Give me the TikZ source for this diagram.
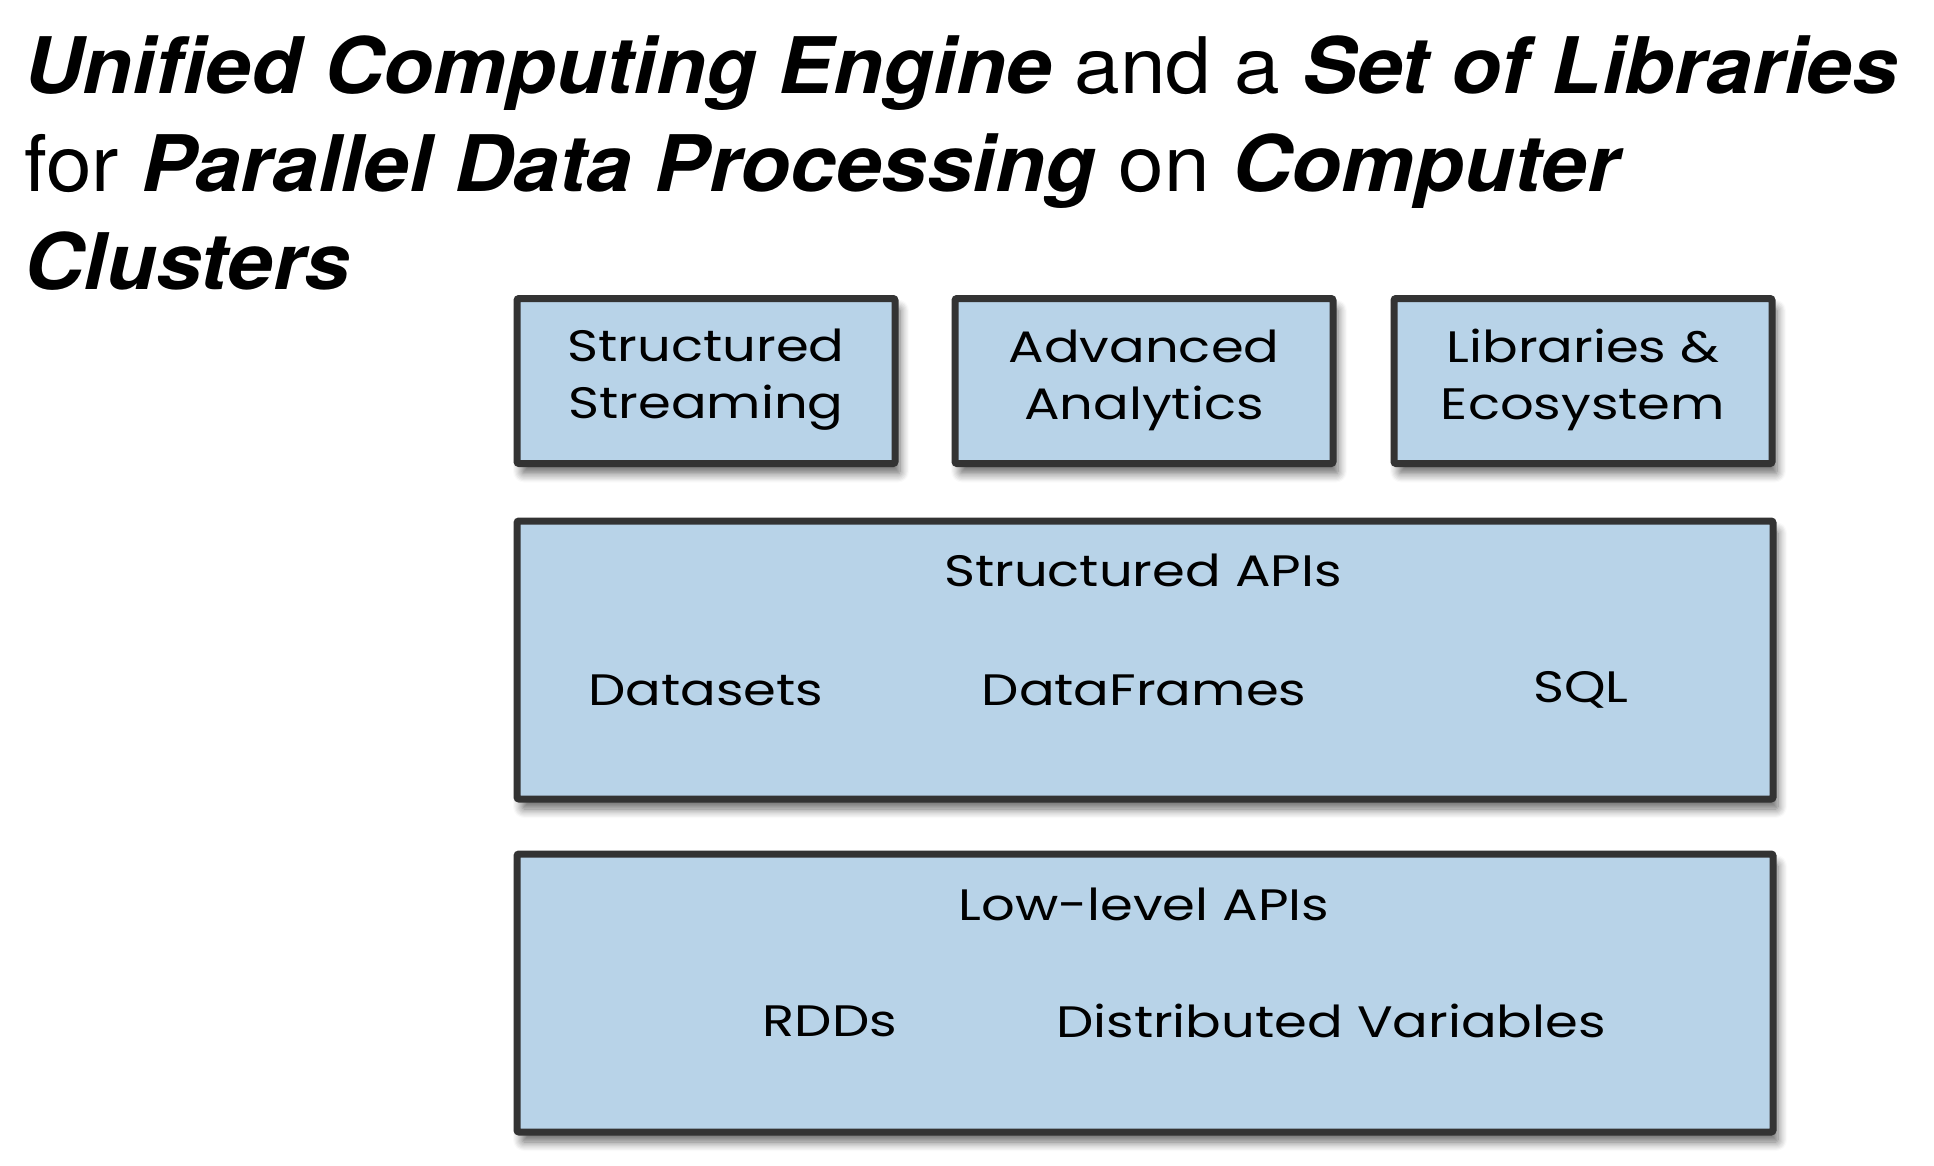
\documentclass[tikz,border=0pt]{standalone}
\usepackage{fontspec}
\setmainfont{TeX Gyre Heros}[FakeStretch=1.05]
\newfontfamily\sketch{Poppins}[FakeStretch=1.2]
\usetikzlibrary{shadows.blur}
\definecolor{boxblue}{HTML}{B8D3E8}
\definecolor{boxline}{HTML}{333333}

\begin{document}
\begin{tikzpicture}
[x=1pt,y=-1pt,%
  layer/.style={shape=rectangle,draw=boxline,fill=boxblue,line width=7pt,
    rounded corners=2pt,inner sep=0pt,
    blur shadow={shadow xshift=5pt,shadow yshift=-10pt,shadow opacity=60,
      shadow blur radius=9pt,shadow blur steps=8}},%
  small/.style={layer,minimum width=378pt,minimum height=165pt},%
  wide/.style={layer,minimum width=1256pt,minimum height=278pt},%
  label/.style={font=\sketch\fontsize{44}{57}\selectfont,align=center,inner sep=0pt}]
\useasboundingbox (0,0) rectangle (1934,1166);
\node[anchor=north west,align=left,inner sep=0pt,font=\fontsize{78}{98}\selectfont] (title) at (24,36)
  {\textbf{\textit{Unified Computing Engine}} and a \textbf{\textit{Set of Libraries}}\\
   for \textbf{\textit{Parallel Data Processing}} on \textbf{\textit{Computer}}\\
   \textbf{\textit{Clusters}}};
\node[small] (stream) at (706,381) {};
\node[small] (analytics) at (1144,381) {};
\node[small] (ecosystem) at (1583,381) {};
\node[wide] (structured) at (1145,660) {};
\node[wide] (lowlevel) at (1145,993) {};
\node[label] (streamtxt) at (706,380) {Structured\\Streaming};
\node[label] (analyticstxt) at (1144,380) {Advanced\\Analytics};
\node[label] (ecosystemtxt) at (1583,380) {Libraries \&\\Ecosystem};
\node[label] (structuredtxt) at (1143,570) {Structured APIs};
\node[label] (datasets) at (706,690) {Datasets};
\node[label] (dataframes) at (1144,690) {DataFrames};
\node[label] (sql) at (1581,690) {SQL};
\node[label] (lowleveltxt) at (1144,904) {Low-level APIs};
\node[label] (rdds) at (830,1021) {RDDs};
\node[label] (variables) at (1331,1021) {Distributed Variables};
\end{tikzpicture}
\end{document}
